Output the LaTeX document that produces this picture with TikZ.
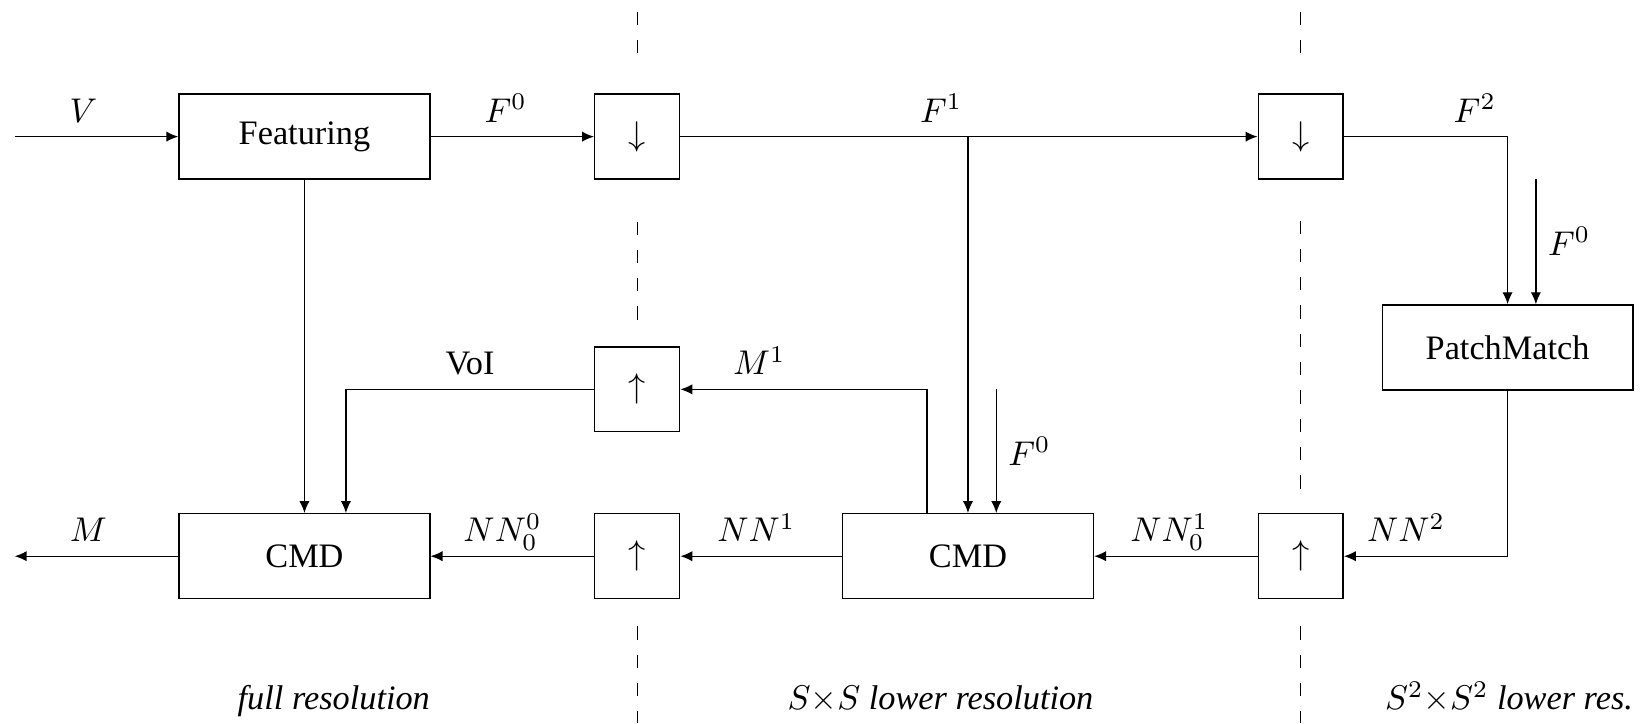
\documentclass[tikz,border=0pt]{standalone}
\usepackage[no-math]{fontspec}
\setmainfont{Liberation Serif}
\usetikzlibrary{arrows.meta,positioning}

\begin{document}
\begin{tikzpicture}[>={Latex[length=3.5pt,width=3pt]},
    blk/.style={draw,minimum width=2.57cm,minimum height=0.87cm,inner sep=0pt},
    sblk/.style={draw,minimum size=0.87cm,inner sep=0pt},
    lbl/.style={above,text depth=0pt,inner ysep=4pt},
    divider/.style={dash pattern=on 3.9pt off 4.35pt}]
    \useasboundingbox (0,0) rectangle (16.92,-7.41);
    % ---------- blocks ----------
    \node[blk]  (feat) at (3.12,-1.40) {Featuring};
    \node[blk]  (cmdA) at (3.12,-5.70) {CMD};
    \node[sblk] (dnA)  at (6.53,-1.40) {$\downarrow$};
    \node[sblk] (upA)  at (6.53,-3.99) {$\uparrow$};
    \node[sblk] (upB)  at (6.53,-5.70) {$\uparrow$};
    \node[blk]  (cmdB) at (9.92,-5.70) {CMD};
    \node[sblk] (dnB)  at (13.33,-1.40) {$\downarrow$};
    \node[sblk] (upC)  at (13.33,-5.70) {$\uparrow$};
    \node[blk]  (pm)   at (15.45,-3.56) {PatchMatch};
    % ---------- free ends ----------
    \coordinate (vin)  at (0.15,-1.40);
    \coordinate (mout) at (0.15,-5.70);
    \coordinate (f0r)  at (15.74,-1.83);
    \coordinate (f0m)  at (10.21,-3.99);
    \coordinate (m1)   at (9.50,0);
    \coordinate (voi)  at (3.545,0);
    \coordinate (base) at (0,-7.275);
    % ---------- top row ----------
    \draw[->] (vin) -- node[lbl,pos=0.42] (lV) {$V$} (feat);
    \draw[->] (feat) -- node[lbl,pos=0.46] (lF0) {$F^0$} (dnA);
    \draw[->] (dnA) -- node[lbl,pos=0.452] (lF1) {$F^1$} (dnB);
    \draw[->] (dnB) -| node[lbl,pos=0.4] (lF2) {$F^2$} (pm);
    \draw[->] (f0r) -- node[right] (lF0r) {$F^0$} (f0r |- pm.north);
    % ---------- bottom row ----------
    \draw[->] (pm) |- node[lbl,pos=0.81] (lNN2) {$NN^2$} (upC);
    \draw[->] (upC) -- node[lbl,pos=0.54] (lNN01) {$NN^1_0$} (cmdB);
    \draw[->] (cmdB) -- node[lbl,pos=0.53] (lNN1) {$NN^1$} (upB);
    \draw[->] (upB) -- node[lbl,pos=0.56] (lNN00) {$NN^0_0$} (cmdA);
    \draw[->] (cmdA) -- node[lbl,pos=0.55] (lM) {$M$} (mout);
    % ---------- vertical links ----------
    \draw[->] (feat) -- (cmdA);
    \draw[->] (cmdB |- dnA) -- (cmdB);
    \draw[->] (f0m) -- node[right] (lF0m) {$F^0$} (f0m |- cmdB.north);
    \draw[->] (m1 |- cmdB.north) |- node[lbl,pos=0.84] (lM1) {$M^1$} (upA);
    \draw[->] (upA) -| node[lbl,pos=0.25] (lVoI) {VoI} (voi |- cmdA.north);
    % ---------- resolution levels ----------
    \foreach \x in {6.53,13.33} {
      \draw[divider] (\x,-0.12) -- (\x,-0.55);
      \draw[divider] (\x,-6.42) -- (\x,-7.41);
    }
    \draw[divider] (6.53,-2.27) -- (6.53,-3.40);
    \draw[divider] (13.33,-2.26) -- (13.33,-5.12);
    \node[anchor=base east,inner sep=0pt] (resA) at (cmdA.east |- base) {\textit{full resolution}};
    \node[anchor=base east,inner sep=0pt] (resB) at (cmdB.east |- base) {\textit{$S{\times}S$ lower resolution}};
    \node[anchor=base east,inner sep=0pt] (resC) at (pm.east |- base) {\textit{$S^2{\times}S^2$ lower res.}};
\end{tikzpicture}
\end{document}
